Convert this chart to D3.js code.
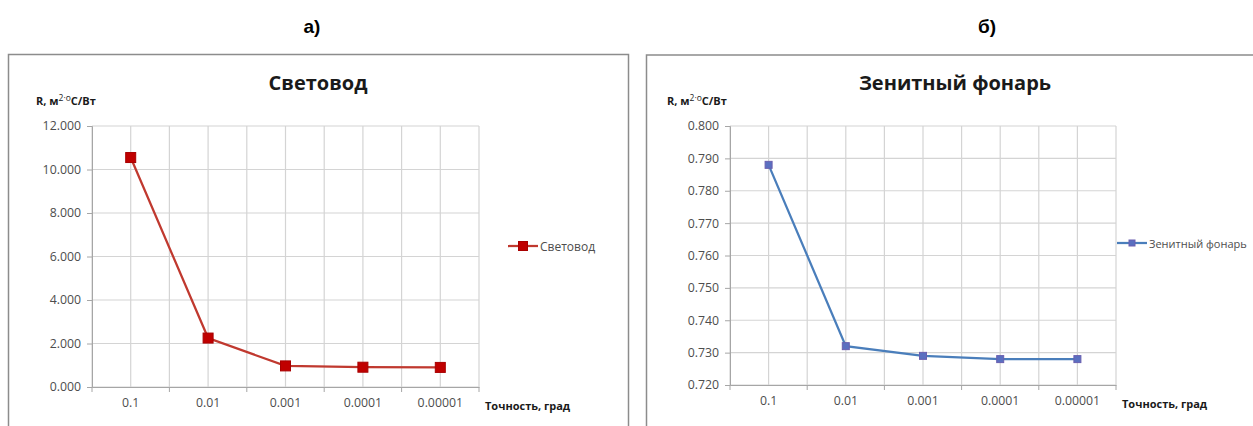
<!DOCTYPE html>
<html>
<head>
<meta charset="utf-8">
<script src="https://cdn.jsdelivr.net/npm/d3@7"></script>
<style>
  body { margin: 0; background: #fff; }
  text { font-family: "Open Sans", "Noto Sans", sans-serif; }
  .tick-label { font-size: 12.3px; fill: #4d4d4d; }
  .axis-title { font-size: 11px; font-weight: bold; fill: #1a1a1a; }
  .chart-title { font-size: 20px; font-weight: bold; fill: #1a1a1a; }
  .legend-text { fill: #4d4d4d; }
  .panel-label { font-family: "Liberation Sans", Arial, sans-serif; font-size: 19px; font-weight: bold; fill: #000; }
</style>
</head>
<body>
<svg width="1253" height="426"></svg>
<script>
const categories = ['0.1', '0.01', '0.001', '0.0001', '0.00001'];

const svetovodValues = [10.55, 2.25, 0.97, 0.91, 0.90];
const svetovodTicks = [0, 2, 4, 6, 8, 10, 12];

const fonarValues = [0.788, 0.732, 0.729, 0.728, 0.728];
const fonarTicks = [0.72, 0.73, 0.74, 0.75, 0.76, 0.77, 0.78, 0.79, 0.80];

const svg = d3.select('svg');

const render = opts => {
  const g = svg.append('g');

  // panel frame (runs past the bottom / right edge of the picture)
  g.append('rect')
    .attr('x', opts.frame[0]).attr('y', opts.frame[1])
    .attr('width', opts.frame[2]).attr('height', opts.frame[3])
    .attr('fill', '#fff')
    .attr('stroke', '#8c8c8c')
    .attr('stroke-width', 1.5);

  const xBand = d3.scaleBand()
    .domain(categories)
    .range([opts.x0, opts.x1]);
  const bw = xBand.bandwidth();
  const xCenter = c => xBand(c) + bw / 2;

  const yScale = d3.scaleLinear()
    .domain(d3.extent(opts.ticks))
    .range([opts.yBottom, opts.yTop]);

  // horizontal gridlines
  g.selectAll('.hgrid').data(opts.ticks).enter().append('line')
    .attr('x1', opts.x0).attr('x2', opts.x1)
    .attr('y1', d => yScale(d)).attr('y2', d => yScale(d))
    .attr('stroke', '#d4d4d4').attr('stroke-width', 1.2);

  // vertical gridlines at category edges and centres
  const edges = categories.map(c => xBand(c)).concat([opts.x1]);
  const vLines = edges.concat(categories.map(xCenter));
  g.selectAll('.vgrid').data(vLines).enter().append('line')
    .attr('x1', d => d).attr('x2', d => d)
    .attr('y1', opts.yTop).attr('y2', opts.yBottom)
    .attr('stroke', '#d4d4d4').attr('stroke-width', 1.2);

  // y axis
  const yAxis = d3.axisLeft(yScale)
    .tickValues(opts.ticks)
    .tickFormat(d3.format('.3f'))
    .tickSize(5)
    .tickPadding(6);
  const yAxisG = g.append('g')
    .attr('transform', `translate(${opts.x0},0)`)
    .call(yAxis);
  yAxisG.select('.domain').attr('stroke', '#a6a6a6');
  yAxisG.selectAll('.tick line').attr('stroke', '#a6a6a6');
  yAxisG.selectAll('.tick text').attr('class', 'tick-label').attr('fill', null);

  // x axis
  const xAxis = d3.axisBottom(xBand).tickSize(0).tickPadding(11);
  const xAxisG = g.append('g')
    .attr('transform', `translate(0,${opts.yBottom})`)
    .call(xAxis);
  xAxisG.select('.domain').attr('stroke', '#a6a6a6');
  xAxisG.selectAll('.tick text').attr('class', 'tick-label').attr('fill', null);
  xAxisG.selectAll('.edge-tick').data(edges).enter().append('line')
    .attr('x1', d => d).attr('x2', d => d)
    .attr('y1', 0).attr('y2', 5)
    .attr('stroke', '#a6a6a6');

  // series
  const line = d3.line()
    .x((d, i) => xCenter(categories[i]))
    .y(d => yScale(d));
  g.append('path')
    .datum(opts.values)
    .attr('fill', 'none')
    .attr('stroke', opts.lineColor)
    .attr('stroke-width', 2.25)
    .attr('d', line);

  const m = opts.marker;
  g.selectAll('.marker').data(opts.values).enter().append('rect')
    .attr('x', (d, i) => xCenter(categories[i]) - m / 2)
    .attr('y', d => yScale(d) - m / 2)
    .attr('width', m).attr('height', m)
    .attr('fill', opts.markerColor)
    .attr('stroke', opts.markerStroke)
    .attr('stroke-width', 1);

  // titles
  g.append('text')
    .attr('class', 'chart-title')
    .attr('x', opts.titleX).attr('y', 90)
    .attr('text-anchor', 'middle')
    .text(opts.title);

  const yt = g.append('text')
    .attr('class', 'axis-title')
    .attr('x', opts.yTitleX).attr('y', 105)
    .style('font-size', '11px');
  yt.append('tspan').text('R, м');
  yt.append('tspan').attr('dy', -4).style('font-size', '8.5px').style('font-weight', 'normal').text('2·о');
  yt.append('tspan').attr('dy', 4).text('C/Вт');

  g.append('text')
    .attr('class', 'axis-title')
    .attr('x', opts.x1 + 6).attr('y', opts.yBottom + 23)
    .text('Точность, град');

  // legend
  const lg = g.append('g')
    .attr('transform', `translate(${opts.legend[0]},${opts.legend[1]})`);
  lg.append('line')
    .attr('x1', 0).attr('x2', 30).attr('y1', 0).attr('y2', 0)
    .attr('stroke', opts.lineColor).attr('stroke-width', 2.25);
  lg.append('rect')
    .attr('x', 15 - m / 2 + 0.5).attr('y', -m / 2 + 0.5)
    .attr('width', m - 1).attr('height', m - 1)
    .attr('fill', opts.markerColor)
    .attr('stroke', opts.markerStroke);
  lg.append('text')
    .attr('class', 'legend-text')
    .attr('x', 32).attr('y', 4.5)
    .style('font-size', opts.legendSize)
    .text(opts.title);

  g.append('text')
    .attr('class', 'panel-label')
    .attr('x', opts.labelX).attr('y', 33)
    .attr('text-anchor', 'middle')
    .text(opts.label);
};

render({
  frame: [8.5, 54.5, 620, 400],
  x0: 92, x1: 479, yTop: 126, yBottom: 387,
  ticks: svetovodTicks,
  values: svetovodValues,
  title: 'Световод',
  titleX: 318,
  yTitleX: 36,
  lineColor: '#c0392f',
  markerColor: '#c00000',
  markerStroke: '#a80000',
  marker: 10,
  legend: [508, 246],
  legendSize: '12px',
  label: 'а)',
  labelX: 312
});

render({
  frame: [646.5, 55, 640, 400],
  x0: 730, x1: 1116, yTop: 126, yBottom: 385,
  ticks: fonarTicks,
  values: fonarValues,
  title: 'Зенитный фонарь',
  titleX: 955,
  yTitleX: 667,
  lineColor: '#4a7ebb',
  markerColor: '#5a6fc0',
  markerStroke: '#6a5fb0',
  marker: 7,
  legend: [1117, 243],
  legendSize: '11px',
  label: 'б)',
  labelX: 987
});
</script>
</body>
</html>
